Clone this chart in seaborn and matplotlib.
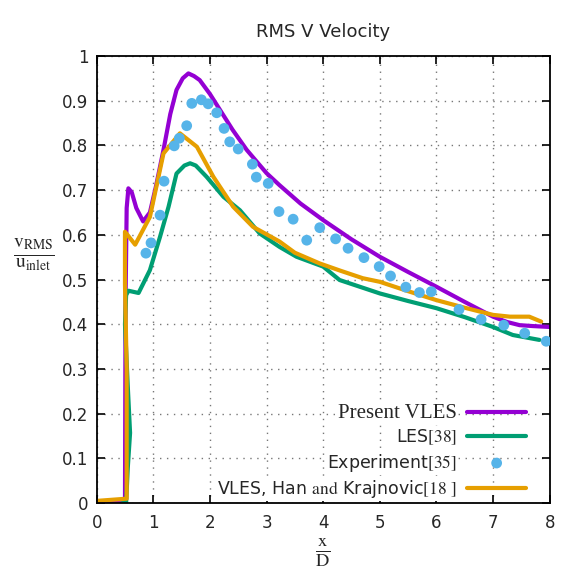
import matplotlib
matplotlib.use("Agg")
import matplotlib.pyplot as plt
import seaborn as sns

# Present VLES (purple)
vles_x = [0.0, 0.45, 0.50, 0.51, 0.53, 0.56, 0.62, 0.70, 0.82, 0.94, 1.05, 1.18, 1.30, 1.41, 1.52,
          1.62, 1.72, 1.82, 2.00, 2.18, 2.40, 2.65, 3.00, 3.23, 3.60, 4.00, 4.50, 5.00, 5.50, 6.00,
          6.50, 7.00, 7.25, 7.47, 7.70, 8.00]
vles_y = [0.0, 0.0, 0.0, 0.45, 0.66, 0.704, 0.695, 0.66, 0.63, 0.65, 0.71, 0.79, 0.87, 0.924, 0.95,
          0.961, 0.955, 0.946, 0.915, 0.879, 0.835, 0.79, 0.738, 0.711, 0.67, 0.633, 0.59, 0.551, 0.517,
          0.484, 0.45, 0.417, 0.405, 0.398, 0.396, 0.394]

# LES [38] (green)
les_x = [0.45, 0.52, 0.55, 0.59, 0.55, 0.50, 0.52, 0.56, 0.74, 0.94, 1.12, 1.27, 1.41, 1.55, 1.65,
         1.75, 1.94, 2.24, 2.53, 2.88, 3.23, 3.53, 4.00, 4.29, 5.00, 5.50, 6.00, 6.50, 7.00, 7.35, 7.82]
les_y = [0.0, 0.0, 0.08, 0.157, 0.26, 0.40, 0.465, 0.475, 0.47, 0.521, 0.596, 0.663, 0.737, 0.755, 0.76,
         0.755, 0.73, 0.685, 0.655, 0.603, 0.573, 0.551, 0.529, 0.499, 0.469, 0.452, 0.436, 0.416, 0.394,
         0.376, 0.365]

# Experiment [35] (blue dots)
exp_x = [0.87, 0.96, 1.12, 1.19, 1.37, 1.46, 1.59, 1.68, 1.85, 1.97, 2.12, 2.25, 2.35, 2.50, 2.75,
         2.82, 3.03, 3.22, 3.47, 3.71, 3.94, 4.22, 4.44, 4.72, 4.99, 5.19, 5.46, 5.70, 5.91, 6.40,
         6.79, 7.19, 7.56, 7.94]
exp_y = [0.559, 0.582, 0.644, 0.72, 0.799, 0.816, 0.844, 0.894, 0.902, 0.893, 0.873, 0.838, 0.808,
         0.792, 0.758, 0.729, 0.715, 0.652, 0.635, 0.588, 0.616, 0.591, 0.57, 0.549, 0.529, 0.508,
         0.483, 0.471, 0.473, 0.433, 0.411, 0.398, 0.38, 0.362]

# VLES, Han and Krajnovic [18] (orange)
han_x = [0.0, 0.53, 0.53, 0.50, 0.50, 0.68, 0.94, 1.18, 1.47, 1.77, 2.06, 2.41, 2.76, 3.23, 3.50,
         3.94, 4.30, 4.70, 5.00, 5.50, 6.00, 6.50, 7.00, 7.30, 7.64, 7.85]
han_y = [0.005, 0.01, 0.30, 0.49, 0.607, 0.578, 0.64, 0.782, 0.827, 0.797, 0.73, 0.663, 0.618, 0.585,
         0.56, 0.536, 0.52, 0.503, 0.495, 0.474, 0.454, 0.437, 0.421, 0.417, 0.417, 0.406]

labels = ["Present VLES", r"LES$\mathrm{[38]}$", r"Experiment$\mathrm{[35]}$",
          r"VLES, Han $\mathrm{and}$ Krajnovic$\mathrm{[18\ ]}$"]
colors = ["#9400d3", "#009e73", "#56b4e9", "#e69f00"]
x_ticks = [0, 1, 2, 3, 4, 5, 6, 7, 8]
y_ticks = [0, 0.1, 0.2, 0.3, 0.4, 0.5, 0.6, 0.7, 0.8, 0.9, 1.0]
y_tick_labels = ["0", "0.1", "0.2", "0.3", "0.4", "0.5", "0.6", "0.7", "0.8", "0.9", "1"]

sns.set_theme(style="ticks")
plt.rcParams["font.family"] = ["DejaVu Sans"]
plt.rcParams["mathtext.fontset"] = "stix"

fig = plt.figure(figsize=(5.62, 5.77), dpi=100)
ax = fig.add_axes([0.172, 0.128, 0.806, 0.775])

sns.lineplot(x=vles_x, y=vles_y, sort=False, estimator=None, color=colors[0], lw=3, label=labels[0], ax=ax)
sns.lineplot(x=les_x, y=les_y, sort=False, estimator=None, color=colors[1], lw=3, label=labels[1], ax=ax)
sns.scatterplot(x=exp_x, y=exp_y, color=colors[2], s=60, edgecolor="none", label=labels[2], zorder=3, ax=ax)
sns.lineplot(x=han_x, y=han_y, sort=False, estimator=None, color=colors[3], lw=3, label=labels[3], ax=ax)

ax.set_xlim(0, 8)
ax.set_ylim(0, 1)
ax.set_xticks(x_ticks)
ax.set_yticks(y_ticks)
ax.set_yticklabels(y_tick_labels)
ax.tick_params(direction="in", length=6, width=1.2, labelsize=12, top=True, right=True, color="black")
ax.tick_params(axis="x", pad=8)
ax.tick_params(axis="y", pad=6)
for s in ax.spines.values():
    s.set_linewidth(1.3)
    s.set_color("black")
ax.grid(True, linestyle=(0, (1, 4)), color="#777777", lw=1)
ax.set_axisbelow(True)

ax.set_title("RMS V Velocity", fontsize=13, pad=14)
ax.set_xlabel(r"$\frac{\mathrm{x}}{\mathrm{D}}$", fontsize=19, labelpad=3)
ax.set_ylabel(r"$\frac{\mathrm{v_{RMS}}}{\mathrm{u_{inlet}}}$", fontsize=20, rotation=0,
              ha="center", va="center")
ax.yaxis.set_label_coords(-0.138, 0.555)

leg = ax.legend(loc="lower right", bbox_to_anchor=(0.975, -0.02), frameon=False, markerfirst=False,
                fontsize=12.5, handlelength=3.4, handletextpad=0.6, labelspacing=0.25, borderpad=0.2)
texts = leg.get_texts()
texts[0].set_fontfamily("Liberation Serif")
texts[0].set_fontsize(15)
for t in texts:
    t.set_bbox(dict(facecolor="white", edgecolor="none", pad=1))

fig.savefig("out.png", dpi=100)
